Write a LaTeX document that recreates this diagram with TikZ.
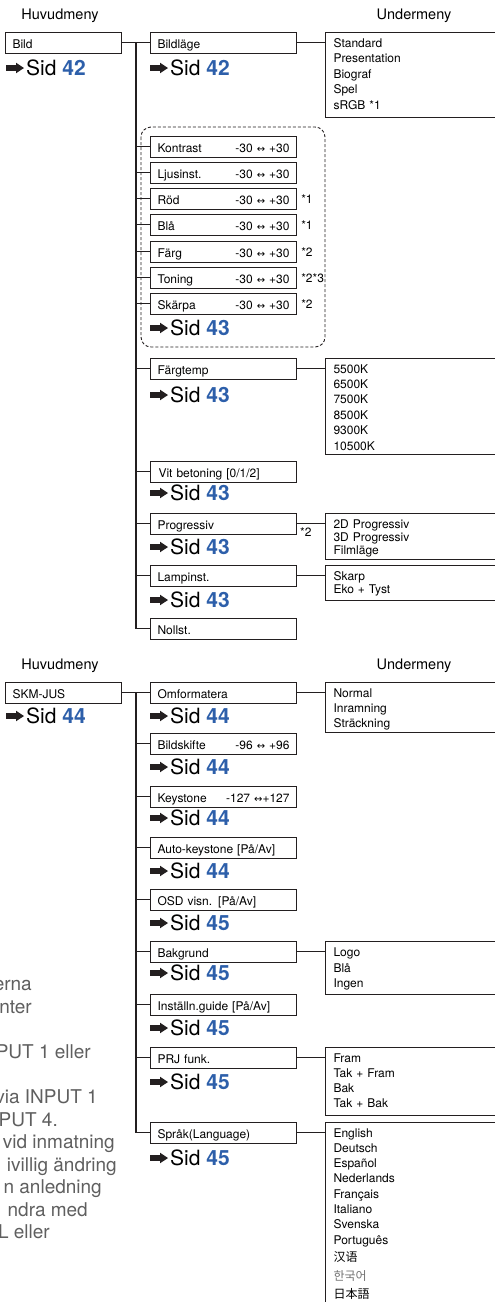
\documentclass[tikz,border=0pt]{standalone}
\usepackage{fontspec}
\setmainfont{TeX Gyre Heros}
\newfontfamily\symfont{DejaVu Sans}
\newfontfamily\cjksc{Noto Sans CJK SC}
\newfontfamily\cjkkr{Noto Sans CJK KR}
\newfontfamily\cjkjp{Noto Sans CJK JP}
\usepackage{xcolor}
\definecolor{sidblue}{RGB}{45,95,170}
\definecolor{inkgray}{RGB}{35,31,32}
\definecolor{cutgray}{RGB}{95,95,95}
\newcommand{\fs}[2]{\fontsize{#1pt}{#2pt}\selectfont}
\newcommand{\range}[2]{#1 {\symfont\fs{10}{12}↔} #2}
\tikzset{
    menubox/.style={draw=inkgray, line width=1.1pt, anchor=north west,
        minimum height=20.5pt, inner xsep=7pt, inner ysep=0pt,
        text height=11.5pt, text depth=1pt, text width=132pt,
        align=left, font=\fs{12}{14}},
    mainbox/.style={menubox, text width=102pt},
    subbox/.style={draw=inkgray, line width=1.1pt, anchor=north west,
        inner xsep=8pt, inner ysep=0pt, text width=200pt, align=left},
    sidnode/.style={anchor=west, inner sep=0pt, font=\fs{21}{25}},
    heading/.style={font=\fs{14.5}{17}},
    note/.style={anchor=west, inner sep=0pt, font=\fs{12}{14}},
    link/.style={draw=inkgray, line width=1.1pt},
    cutoff/.style={anchor=base east, inner sep=0pt, text=cutgray, font=\fs{19}{23}},
    pics/sidarrow/.style={code={
        \fill[inkgray] (0,-2.8) -- (10,-2.8) -- (10,-5.3) -- (18,0)
            -- (10,5.3) -- (10,2.8) -- (0,2.8) -- cycle;
    }}
}
\begin{document}
\begin{tikzpicture}[x=1pt, y=-1pt]
    \useasboundingbox (0,0) rectangle (495,1302);
    \clip (0,0) rectangle (495,1302);

    % --- Bild (top) ---
    \node[heading] (head1) at (60,16) {Huvudmeny};
    \node[heading] (subhead1) at (414,16) {Undermeny};

    \node[mainbox] (bild) at (5,32) {Bild};
    \coordinate (trunk1) at (136,42);

    \node[menubox] (bildlage) at (150,32) {Bildläge};
    \node[subbox, text height=14.5pt, text depth=70.5pt, font=\fs{12}{15.5}] (bildlagesub) at (325,32)
        {Standard\\Presentation\\Biograf\\Spel\\sRGB *1};

    % Adjustment group
    \draw[inkgray, line width=0.9pt, dash pattern=on 3pt off 2pt, rounded corners=10pt]
        (141,127) rectangle (325,347);
    \foreach \name/\lbl/\top in {kontrast/Kontrast/136, ljus/Ljusinst./162, rod/Röd/188,
        bla/Blå/214, farg/Färg/241, toning/Toning/267, skarpa/Skärpa/293}{
        \node[menubox] (\name) at (150,\top) {\lbl\hfill\range{-30}{+30}};
        \draw[link] (trunk1 |- \name.west) -- (\name.west);
    }
    \foreach \name/\fn in {rod/*1, bla/*1, farg/*2, toning/*2*3, skarpa/*2}{
        \node[note] (\name-fn) at ([xshift=4pt]\name.east) {\fn};
    }

    \node[menubox] (fargtemp) at (150,358) {Färgtemp};
    \node[subbox, text height=14.5pt, text depth=81.5pt, font=\fs{12}{15.4}] (fargtempsub) at (325,358)
        {5500K\\6500K\\7500K\\8500K\\9300K\\10500K};

    \node[menubox] (vit) at (150,461) {\hspace{1pt}Vit betoning [0/1/2]};

    \node[menubox] (prog) at (150,513) {Progressiv};
    \node[note] (prog-fn) at (300,532) {*2};
    \node[subbox, text height=15.3pt, text depth=30.7pt, font=\fs{12}{12.7}] (progsub) at (325,513)
        {2D Progressiv\\3D Progressiv\\Filmläge};

    \node[menubox] (lamp) at (150,565) {Lampinst.};
    \node[subbox, text height=15.3pt, text depth=19.7pt, font=\fs{12}{12.5}] (lampsub) at (325,565)
        {Skarp\\Eko + Tyst};

    \node[menubox] (nollst) at (150,618) {Nollst.};

    % Connectors
    \draw[link] (bild.east) -- (bildlage.west);
    \draw[link] (trunk1) |- (nollst.west);
    \foreach \name in {fargtemp, vit, prog, lamp}{
        \draw[link] (trunk1 |- \name.west) -- (\name.west);
    }
    \draw[link] (bildlage.east) -- (bildlage.east -| bildlagesub.west);
    \draw[link] (fargtemp.east) -- (fargtemp.east -| fargtempsub.west);
    \draw[link] (prog.east) -- (prog.east -| progsub.west);
    \draw[link] (lamp.east) -- (lamp.east -| lampsub.west);

    % --- SKM-JUS (bottom) ---
    \node[heading] (head2) at (60,666) {Huvudmeny};
    \node[heading] (subhead2) at (414,666) {Undermeny};

    \node[mainbox] (skm) at (5,682) {SKM-JUS};
    \coordinate (trunk2) at (136,692);

    \node[menubox] (omform) at (150,682) {Omformatera};
    \node[subbox, text height=14.5pt, text depth=35.5pt, font=\fs{12}{15}] (omformsub) at (325,682)
        {Normal\\Inramning\\Sträckning};

    \node[menubox] (skifte) at (150,733) {Bildskifte\hfill\range{-96}{+96}};
    \node[menubox] (keyst) at (150,786) {Keystone\hfill-127 {\symfont\fs{10}{12}↔}+127};
    \node[menubox] (autokey) at (150,837) {Auto-keystone [På/Av]};
    \node[menubox] (osd) at (150,889) {OSD visn. [På/Av]};

    \node[menubox] (bakgr) at (150,941) {Bakgrund};
    \node[subbox, text height=15.3pt, text depth=37.7pt, font=\fs{12}{15.5}] (bakgrsub) at (325,941)
        {Logo\\Blå\\Ingen};

    \node[menubox] (guide) at (150,994) {Inställn.guide [På/Av]};

    \node[menubox] (prj) at (150,1047) {PRJ funk.};
    \node[subbox, text height=14.5pt, text depth=53.5pt, font=\fs{12}{15.3}] (prjsub) at (325,1047)
        {Fram\\Tak + Fram\\Bak\\Tak + Bak};

    \node[menubox] (sprak) at (150,1122) {Språk(Language)};
    \node[subbox, text height=14.5pt, text depth=200pt, font=\fs{12}{15.3}] (spraksub) at (325,1122)
        {English\\Deutsch\\Español\\Nederlands\\Français\\Italiano\\Svenska\\Português\\[1.7pt]
        {\cjksc 汉语}\\[3.7pt]{\cjkkr\color{black!55}한국어}\\[2.7pt]{\cjkjp 日本語}};

    % Connectors
    \draw[link] (skm.east) -- (omform.west);
    \draw[link] (trunk2) |- (sprak.west);
    \foreach \name in {skifte, keyst, autokey, osd, bakgr, guide, prj}{
        \draw[link] (trunk2 |- \name.west) -- (\name.west);
    }
    \draw[link] (omform.east) -- (omform.east -| omformsub.west);
    \draw[link] (bakgr.east) -- (bakgr.east -| bakgrsub.west);
    \draw[link] (prj.east) -- (prj.east -| prjsub.west);
    \draw[link] (sprak.east) -- (sprak.east -| spraksub.west);

    % Page references
    \foreach \name/\x/\y/\pg in {bild/6/68/42, bildlage/150/68/42, kontrast/150/328/43,
        fargtemp/150/395/43, vit/150/493/43, prog/150/547/43, lamp/150/600/43,
        skm/6/716/44, omform/150/716/44, skifte/150/767/44, keyst/150/818/44,
        autokey/150/871/44, osd/150/923/45, bakgr/150/973/45, guide/150/1028/45,
        prj/150/1082/45, sprak/150/1158/45}{
        \pic at (\x,\y) {sidarrow};
        \node[sidnode] (\name-sid) at (\x+20,\y) {Sid \textcolor{sidblue}{\bfseries\pg}};
    }

    % Text of the neighbouring column, cut by the page edge
    \node[cutoff] (cut1) at (32,990) {erna};
    \node[cutoff] (cut2) at (32,1013) {nter};
    \node[cutoff] (cut3) at (91,1058) {PUT 1 eller};
    \node[cutoff] (cut4) at (98,1103) {via INPUT 1};
    \node[cutoff] (cut5) at (58,1126) {PUT 4.};
    \node[cutoff] (cut6) at (115,1148) {vid inmatning};
    \node[cutoff] (cut7) at (117,1171) {ivillig ändring};
    \node[cutoff] (cut8) at (102,1193) {n anledning};
    \node[cutoff] (cut9) at (88,1216) {ndra med};
    \node[cutoff] (cut10) at (50,1238) {L eller};
\end{tikzpicture}
\end{document}
